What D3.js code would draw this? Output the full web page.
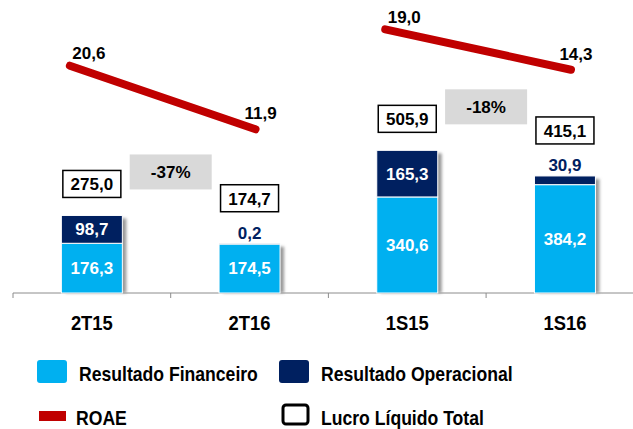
<!DOCTYPE html>
<html>
<head>
<meta charset="utf-8">
<script src="https://cdn.jsdelivr.net/npm/d3@7"></script>
<style>
  body { margin: 0; background: #fff; }
  text { font-family: Arial, "Liberation Sans", sans-serif; font-weight: bold; }
</style>
</head>
<body>
<div id="chart"></div>
<script>
// data
var categories = ["2T15", "2T16", "1S15", "1S16"];
var groups = ["T", "T", "S", "S"];
var financeiro = [176.3, 174.5, 340.6, 384.2];
var operacional = [98.7, 0.2, 165.3, 30.9];
var lucro = [275.0, 174.7, 505.9, 415.1];
var roae = [20.6, 11.9, 19.0, 14.3];
var variacao = ["-37%", "-18%"];
var fmt = function(v) { return d3.format(".1f")(v).replace(".", ","); };

var colors = { fin: "#00b0f0", op: "#002060", roae: "#c00000", box: "#d9d9d9" };

var width = 633, height = 429;

var svg = d3.select("#chart").append("svg")
  .attr("width", width)
  .attr("height", height);

// shadow filter for bars
var defs = svg.append("defs");
defs.append("filter").attr("id", "blur")
  .append("feGaussianBlur").attr("stdDeviation", 1.6);

// scales
var x = d3.scaleBand()
  .domain(categories)
  .range([13, 13 + 4 * 157.7]);

var y = d3.scaleLinear()
  .domain([0, 550])
  .range([293, 293 - 550 * 0.282]);

// ROAE drawn on its own scale per period group
var yRoae = {
  T: d3.scaleLinear().domain([10, 22]).range([143.2, 55.5]),
  S: d3.scaleLinear().domain([10, 22]).range([106.7, 3.5])
};

var barW = 61;
var cx = function(i) { return x(categories[i]) + x.bandwidth() / 2; };

var data = categories.map(function(c, i) {
  return { cat: c, i: i, group: groups[i], fin: financeiro[i], op: operacional[i], total: lucro[i], roae: roae[i] };
});

// axis
var xAxis = d3.axisBottom(x).tickSize(0).tickSizeOuter(0);
var axisG = svg.append("g")
  .attr("transform", "translate(0,293)")
  .call(xAxis);
axisG.select(".domain").remove();
axisG.append("line")
  .attr("x1", 13).attr("x2", width)
  .attr("stroke", "#8c8c8c").attr("stroke-width", 1);
axisG.selectAll(".boundary")
  .data(categories)
  .enter().append("line")
  .attr("class", "boundary")
  .attr("x1", function(d) { return x(d); })
  .attr("x2", function(d) { return x(d); })
  .attr("y1", 0).attr("y2", 5)
  .attr("stroke", "#8c8c8c");
axisG.selectAll(".tick text")
  .attr("dy", 0)
  .attr("y", null)
  .attr("transform", "translate(0,37) scale(0.92,1)")
  .attr("fill", "#000")
  .style("font-size", "20px")
  .style("font-family", "Arial, 'Liberation Sans', sans-serif")
  .style("font-weight", "bold");

// bars
var bars = svg.selectAll(".bar")
  .data(data)
  .enter().append("g")
  .attr("class", "bar");

bars.append("rect")
  .attr("x", function(d) { return cx(d.i) - barW / 2 + 4; })
  .attr("y", function(d) { return y(d.total) + 3; })
  .attr("width", barW)
  .attr("height", function(d) { return y(0) - y(d.total) - 3; })
  .attr("fill", "#9a9a9a")
  .attr("filter", "url(#blur)");

bars.append("rect")
  .attr("x", function(d) { return cx(d.i) - barW / 2; })
  .attr("y", function(d) { return y(d.fin); })
  .attr("width", barW)
  .attr("height", function(d) { return y(0) - y(d.fin); })
  .attr("fill", colors.fin)
  .attr("stroke", "#fff").attr("stroke-width", 1);

bars.append("rect")
  .attr("x", function(d) { return cx(d.i) - barW / 2; })
  .attr("y", function(d) { return y(d.total); })
  .attr("width", barW)
  .attr("height", function(d) { return Math.max(y(d.fin) - y(d.total), 0.5); })
  .attr("fill", colors.op)
  .attr("stroke", "#fff").attr("stroke-width", 1);

// segment labels
bars.append("text")
  .attr("x", function(d) { return cx(d.i); })
  .attr("y", function(d) { return (y(0) + y(d.fin)) / 2; })
  .attr("dy", "0.35em")
  .attr("text-anchor", "middle")
  .attr("fill", "#fff")
  .style("font-size", "17px")
  .text(function(d) { return fmt(d.fin); });

var opInside = function(d) { return d.op >= 50; };

bars.append("text")
  .attr("x", function(d) { return cx(d.i); })
  .attr("y", function(d) { return opInside(d) ? (y(d.fin) + y(d.total)) / 2 : y(d.total) - 10.5; })
  .attr("dy", "0.35em")
  .attr("text-anchor", "middle")
  .attr("fill", function(d) { return opInside(d) ? "#fff" : colors.op; })
  .style("font-size", "17px")
  .text(function(d) { return fmt(d.op); });

// lucro liquido total boxes
var boxW = 58, boxH = 27;
var boxBottom = function(d) { return y(d.total) - (opInside(d) ? 18 : 32); };

var boxes = svg.selectAll(".lucro")
  .data(data)
  .enter().append("g")
  .attr("class", "lucro");

boxes.append("rect")
  .attr("x", function(d) { return cx(d.i) - boxW / 2; })
  .attr("y", function(d) { return boxBottom(d) - boxH; })
  .attr("width", boxW)
  .attr("height", boxH)
  .attr("fill", "#fff")
  .attr("stroke", "#000")
  .attr("stroke-width", 1.5);

boxes.append("text")
  .attr("x", function(d) { return cx(d.i); })
  .attr("y", function(d) { return boxBottom(d) - boxH / 2; })
  .attr("dy", "0.37em")
  .attr("text-anchor", "middle")
  .attr("fill", "#000")
  .style("font-size", "17px")
  .text(function(d) { return fmt(d.total); });

// variation boxes between each pair
var pairs = variacao.map(function(v, k) {
  return { label: v, a: data[k * 2], b: data[k * 2 + 1] };
});

var varG = svg.selectAll(".variacao")
  .data(pairs)
  .enter().append("g")
  .attr("class", "variacao");

varG.append("rect")
  .attr("x", function(p) { return (cx(p.a.i) + cx(p.b.i)) / 2 - 41; })
  .attr("y", function(p) { return boxBottom(p.a) - boxH / 2 - 12 - 17.5; })
  .attr("width", 82)
  .attr("height", 35)
  .attr("fill", colors.box);

varG.append("text")
  .attr("x", function(p) { return (cx(p.a.i) + cx(p.b.i)) / 2; })
  .attr("y", function(p) { return boxBottom(p.a) - boxH / 2 - 12; })
  .attr("dy", "0.37em")
  .attr("text-anchor", "middle")
  .attr("fill", "#000")
  .style("font-size", "17px")
  .text(function(p) { return p.label; });

// ROAE segments
var line = d3.line()
  .x(function(d, k) { return cx(d.i) + (k === 0 ? -22 : 6); })
  .y(function(d) { return yRoae[d.group](d.roae); });

svg.selectAll(".roae")
  .data(pairs)
  .enter().append("path")
  .attr("class", "roae")
  .attr("d", function(p) { return line([p.a, p.b]); })
  .attr("fill", "none")
  .attr("stroke", colors.roae)
  .attr("stroke-width", 8)
  .attr("stroke-linecap", "round");

svg.selectAll(".roae-label")
  .data(data)
  .enter().append("text")
  .attr("class", "roae-label")
  .attr("x", function(d) { return cx(d.i) + (d.i % 2 === 0 ? -3 : 11); })
  .attr("y", function(d) { return yRoae[d.group](d.roae) - (d.i % 2 === 0 ? 13 : 16.5); })
  .attr("dy", "0.37em")
  .attr("text-anchor", "middle")
  .attr("fill", "#000")
  .style("font-size", "17px")
  .text(function(d) { return fmt(d.roae); });

// legend
var legendItems = [
  { label: "Resultado Financeiro", type: "fin" },
  { label: "Resultado Operacional", type: "op" },
  { label: "ROAE", type: "roae" },
  { label: "Lucro Líquido Total", type: "lucro" }
];

var legend = svg.selectAll(".legend")
  .data(legendItems)
  .enter().append("g")
  .attr("class", "legend")
  .attr("transform", function(d, k) {
    return "translate(" + (k % 2 === 0 ? 37 : 279) + "," + (k < 2 ? 372 : 416) + ")";
  });

legend.each(function(d) {
  var g = d3.select(this);
  if (d.type === "fin" || d.type === "op") {
    g.append("rect")
      .attr("x", 0).attr("y", -12)
      .attr("width", 30).attr("height", 23)
      .attr("rx", 3)
      .attr("fill", colors[d.type]);
  } else if (d.type === "roae") {
    g.append("rect")
      .attr("x", 2).attr("y", -5)
      .attr("width", 27).attr("height", 10)
      .attr("fill", colors.roae);
  } else {
    g.append("rect")
      .attr("x", 4).attr("y", -11)
      .attr("width", 25).attr("height", 19)
      .attr("rx", 3)
      .attr("fill", "#fff")
      .attr("stroke", "#000")
      .attr("stroke-width", 3);
  }
});

legend.append("text")
  .attr("transform", function(d) {
    return "translate(" + (d.type === "roae" ? 39 : 42) + ",2) scale(0.88,1)";
  })
  .attr("dy", "0.37em")
  .attr("fill", "#000")
  .style("font-size", "20px")
  .text(function(d) { return d.label; });
</script>
</body>
</html>
